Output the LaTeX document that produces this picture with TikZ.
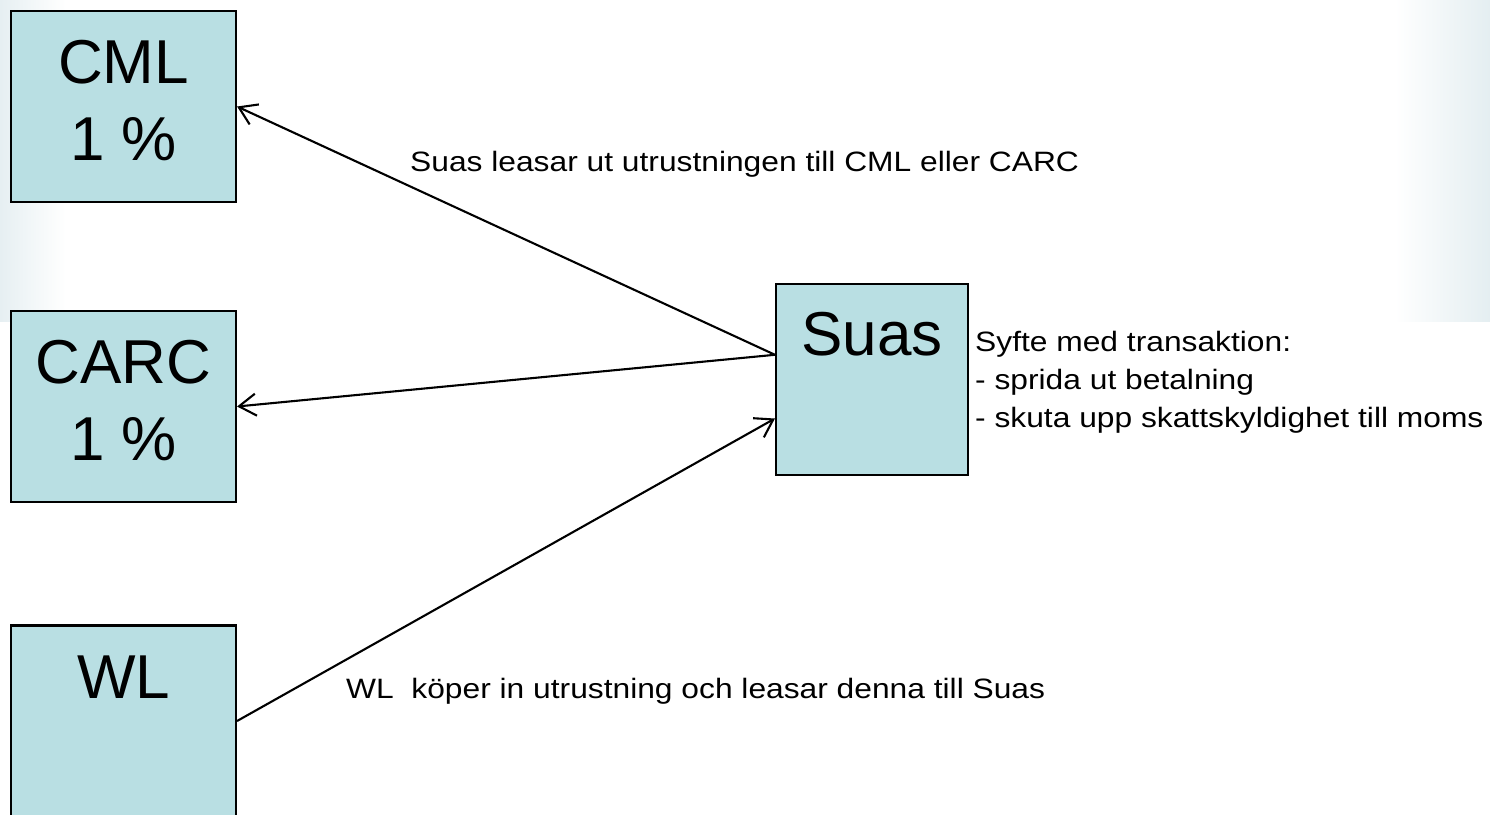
\documentclass[tikz,border=0pt]{standalone}
\usepackage{fontspec}
\setmainfont{Liberation Sans}
\newfontfamily\labfont[FakeStretch=1.134]{Liberation Sans}
\usetikzlibrary{arrows.meta,calc}
\definecolor{boxfill}{RGB}{185,223,227}
\definecolor{bgl}{RGB}{230,239,242}
\definecolor{bgr}{RGB}{228,238,241}
\tikzset{
  box/.style={draw=black, line width=2.1pt, fill=boxfill, minimum width=225pt, inner sep=0pt},
  big/.style={font=\fontsize{62}{70}\selectfont, inner sep=0pt, anchor=base},
  small/.style={font=\labfont\fontsize{28}{32}\selectfont, inner sep=0pt, anchor=base west},
  conn/.style={line width=2.1pt, -{Straight Barb[length=17pt,width=22pt,line width=2.1pt]}}
}
\begin{document}
\begin{tikzpicture}[x=1pt,y=-1pt]
\useasboundingbox (0,0) rectangle (1490,814);
\shade[left color=bgl, right color=white] (0,0) rectangle (66,321);
\shade[left color=white, right color=bgr] (1395,0) rectangle (1490,321);
% boxes
\node[box, minimum height=191pt] (cml) at (123.5,106.5) {};
\node[box, minimum height=191pt] (carc) at (123.5,406.5) {};
\node[box, minimum height=191pt] (wl) at (123.5,721) {};
\node[box, minimum width=192pt, minimum height=191pt] (suas) at (872,379.5) {};
% box texts
\node[big] (cmlA) at (123.5,83) {CML};
\node[big] (cmlB) at (123.5,160) {1 \%};
\node[big] (carcA) at (123.5,383) {CARC};
\node[big] (carcB) at (123.5,460) {1 \%};
\node[big] (wlA) at (123.5,698) {WL};
\node[big] (suasA) at (872,355) {Suas};
% connector endpoints on Suas
\coordinate (sout) at ($(suas.north west)!0.372!(suas.south west)$);
\coordinate (sin) at ($(suas.north west)!0.702!(suas.south west)$);
\draw[conn] (sout) -- (cml.east);
\draw[conn] (sout) -- (carc.east);
\draw[conn] (wl.east) -- (sin);
% labels
\node[small] (lab1) at (410,171) {Suas leasar ut utrustningen till CML eller CARC};
\node[small] (lab2) at (346,698) {WL\ \ köper in utrustning och leasar denna till Suas};
\node[small] (p1) at (975,351) {Syfte med transaktion:};
\node[small] (p2) at (975,389) {- sprida ut betalning};
\node[small] (p3) at (975,427) {- skuta upp skattskyldighet till moms};
\end{tikzpicture}
\end{document}
